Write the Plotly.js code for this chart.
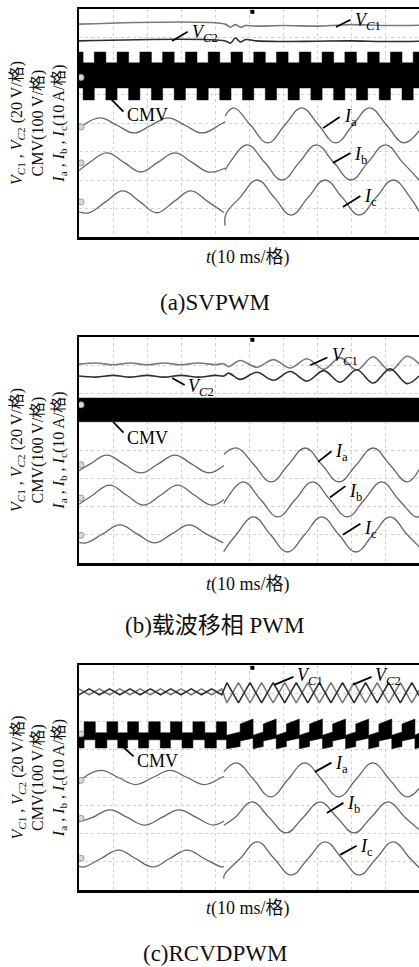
<!DOCTYPE html>
<html><head><meta charset="utf-8">
<script src="https://cdn.plot.ly/plotly-3.0.1.min.js"></script>
<style>html,body{margin:0;padding:0;background:#fff;}#chart{width:419px;height:967px;}</style>
</head><body><div id="chart"></div>
<script>
// ===== Data (time in ms, 10 ms/div; value in screen divisions, 0..8) =====
// ---- Panel (a) SVPWM ----
const tVc1A = [0, 43, 44.5, 46, 47.5, 49, 52, 60, 70, 76, 80, 90, 100];
const yVc1A = [7.47, 7.47, 7.36, 7.45, 7.36, 7.42, 7.40, 7.42, 7.40, 7.43, 7.45, 7.42, 7.43];
const tVc2A = [0, 43, 44.5, 46, 47.5, 49, 52, 60, 70, 80, 90, 100];
const yVc2A = [6.88, 6.88, 6.80, 6.98, 6.84, 6.93, 6.88, 6.86, 6.87, 6.88, 6.86, 6.87];
const tCmvA = [0, 1.2, 4.5, 7.9, 11.2, 14.6, 17.9, 21.3, 24.6, 28.0, 31.3, 34.7, 38.0, 41.4, 44.7, 48.1, 51.4, 54.8, 58.1, 61.5, 64.8, 68.2, 71.5, 74.9, 78.2, 81.6, 84.9, 88.3, 91.6, 95.0, 98.3, 100];
const cmvHiA = [6.49, 6.11, 6.49, 6.11, 6.49, 6.11, 6.49, 6.11, 6.49, 6.11, 6.49, 6.11, 6.49, 6.11, 6.49, 6.11, 6.49, 6.11, 6.49, 6.11, 6.49, 6.11, 6.49, 6.11, 6.49, 6.11, 6.49, 6.11, 6.49, 6.11, 6.49, 6.49];
const cmvLoA = [5.23, 4.81, 5.23, 4.81, 5.23, 4.81, 5.23, 4.81, 5.23, 4.81, 5.23, 4.81, 5.23, 4.81, 5.23, 4.81, 5.23, 4.81, 5.23, 4.81, 5.23, 4.81, 5.23, 4.81, 5.23, 4.81, 5.23, 4.81, 5.23, 4.81, 5.23, 5.23];
const tIaA = [0, 1.2, 6.2, 11.2, 16.2, 21.2, 26.2, 31.2, 36.2, 41.2, 43.0, null, 43.0, 45.5, 50.5, 55.5, 60.5, 65.5, 70.5, 75.5, 80.5, 85.5, 90.5, 95.5, 100];
const yIaA = [3.78, 3.92, 4.18, 3.92, 3.65, 3.92, 4.18, 3.92, 3.65, 3.92, 4.05, null, 4.25, 4.53, 3.92, 3.30, 3.92, 4.53, 3.92, 3.30, 3.92, 4.53, 3.92, 3.30, 3.72];
const tIbA = [0, 3.2, 8.2, 13.2, 18.2, 23.2, 28.2, 33.2, 38.2, 43.0, null, 43.0, 44.4, 49.5, 54.6, 59.7, 64.8, 69.8, 74.9, 80.0, 85.0, 90.1, 95.2, 100];
const yIbA = [2.33, 2.62, 2.95, 2.62, 2.28, 2.62, 2.95, 2.62, 2.28, 2.42, null, 2.35, 2.62, 3.23, 2.62, 2.00, 2.62, 3.23, 2.62, 2.00, 2.62, 3.23, 2.62, 2.00];
const tIcA = [0, 2.9, 7.9, 12.9, 17.9, 22.9, 27.9, 32.9, 37.9, 42.6, null, 43.0, 43.2, 47.4, 52.4, 57.4, 62.4, 67.4, 72.4, 77.4, 82.4, 87.4, 92.4, 97.4, 100];
const yIcA = [0.88, 0.85, 1.24, 1.62, 1.24, 0.85, 1.24, 1.62, 1.24, 0.86, null, 0.40, 0.80, 1.39, 2.00, 1.39, 0.77, 1.39, 2.00, 1.39, 0.77, 1.39, 2.00, 1.39, 0.90];
// ---- Panel (b) carrier phase-shifted PWM ----
const tVc1B = [0, 5, 10, 15, 20, 25, 30, 35, 40, 42.6, 44, 47.4, 52.3, 57.2, 62.1, 67.1, 72.0, 76.8, 81.7, 86.5, 91.5, 96.5, 100];
const yVc1B = [7.04, 7.08, 7.02, 7.08, 7.02, 7.08, 7.02, 7.08, 7.02, 7.05, 6.95, 7.17, 6.93, 7.20, 6.90, 7.23, 6.86, 7.27, 6.83, 7.30, 6.80, 7.32, 7.05];
const tVc2B = [0, 5, 10, 15, 20, 25, 30, 35, 40, 42.6, 44, 47.4, 52.3, 57.2, 62.1, 67.1, 72.0, 76.8, 81.7, 86.5, 91.5, 96.5, 100];
const yVc2B = [6.62, 6.58, 6.64, 6.58, 6.64, 6.58, 6.64, 6.58, 6.64, 6.62, 6.72, 6.50, 6.75, 6.47, 6.78, 6.44, 6.81, 6.40, 6.84, 6.37, 6.87, 6.35, 6.62];
const tCmvB = [0, 100];
const cmvHiB = [5.84, 5.84];
const cmvLoB = [5.00, 5.00];
const tIaB = [0, 3.2, 8.2, 13.2, 18.2, 23.2, 28.2, 33.2, 38.2, 42.6, null, 42.6, 46.5, 51.5, 56.5, 61.5, 66.5, 71.5, 76.5, 81.5, 86.5, 91.5, 96.5, 100];
const yIaB = [3.27, 3.50, 3.82, 3.50, 3.19, 3.50, 3.82, 3.50, 3.19, 3.45, null, 3.85, 4.07, 3.47, 2.87, 3.47, 4.07, 3.47, 2.87, 3.47, 4.07, 3.47, 2.87, 3.30];
const tIbB = [0, 4.0, 9.0, 14.0, 19.0, 24.0, 29.0, 34.0, 39.0, 42.6, null, 42.6, 43.3, 48.3, 53.4, 58.5, 63.6, 68.7, 73.8, 78.9, 84.0, 89.0, 94.0, 99.0, 100];
const yIbB = [2.08, 2.40, 2.76, 2.40, 2.05, 2.40, 2.76, 2.40, 2.05, 2.25, null, 2.10, 2.25, 2.87, 2.25, 1.63, 2.25, 2.87, 2.25, 1.63, 2.25, 2.87, 2.25, 1.63, 1.65];
const tIcB = [0, 2.0, 7.0, 12.0, 17.1, 22.2, 27.3, 32.4, 37.4, 42.4, null, 42.6, 42.8, 46.3, 51.3, 56.3, 61.3, 66.4, 71.4, 76.4, 81.4, 86.5, 91.5, 96.5, 100];
const yIcB = [0.73, 0.71, 1.03, 1.35, 1.03, 0.71, 1.03, 1.35, 1.03, 0.71, null, 0.40, 0.45, 1.01, 1.63, 1.01, 0.39, 1.01, 1.63, 1.01, 0.39, 1.01, 1.63, 1.01, 0.58];
// ---- Panel (c) RCVDPWM ----
const tVc1C = [0, 3, 6, 9, 12, 15, 18, 21, 24, 27, 30, 33, 36, 39, 42, 43.5, 46.9, 50.3, 53.7, 57.1, 60.5, 63.9, 67.3, 70.7, 74.1, 77.5, 80.9, 84.3, 87.7, 91.1, 94.5, 97.9, 100];
const yVc1C = [7.15, 6.94, 7.15, 6.94, 7.15, 6.94, 7.15, 6.94, 7.15, 6.94, 7.15, 6.94, 7.15, 6.94, 7.15, 6.65, 7.37, 6.65, 7.37, 6.65, 7.37, 6.65, 7.37, 6.65, 7.37, 6.65, 7.37, 6.65, 7.37, 6.65, 7.37, 6.65, 7.10];
const tVc2C = tVc1C;
const yVc2C = [6.94, 7.15, 6.94, 7.15, 6.94, 7.15, 6.94, 7.15, 6.94, 7.15, 6.94, 7.15, 6.94, 7.15, 6.94, 7.37, 6.65, 7.37, 6.65, 7.37, 6.65, 7.37, 6.65, 7.37, 6.65, 7.37, 6.65, 7.37, 6.65, 7.37, 6.65, 7.37, 6.92];
const tCmvC = [0, 1.5, 1.5, 4.8, 4.8, 8.2, 8.2, 11.4, 11.4, 14.3, 14.3, 17.5, 17.5, 20.5, 20.5, 23.9, 23.9, 26.9, 26.9, 30.3, 30.3, 33.5, 33.5, 37.0, 37.0, 40.4, 40.4, 43.4,
  43.4, 47.4, 47.4, 51.2, 51.2, 54.2, 54.2, 58.0, 58.0, 61.0, 61.0, 64.8, 64.8, 67.8, 67.8, 71.6, 71.6, 74.6, 74.6, 78.4, 78.4, 81.4, 81.4, 85.2, 85.2, 88.2, 88.2, 92.0, 92.0, 95.0, 95.0, 98.8, 98.8, 100];
const cmvHiC = [5.59, 5.59, 5.98, 5.98, 5.59, 5.59, 5.98, 5.98, 5.59, 5.59, 5.98, 5.98, 5.59, 5.59, 5.98, 5.98, 5.59, 5.59, 5.98, 5.98, 5.59, 5.59, 5.98, 5.98, 5.59, 5.59, 5.98, 5.98,
  5.50, 5.62, 5.90, 6.08, 5.50, 5.62, 5.90, 6.08, 5.50, 5.62, 5.90, 6.08, 5.50, 5.62, 5.90, 6.08, 5.50, 5.62, 5.90, 6.08, 5.50, 5.62, 5.90, 6.08, 5.50, 5.62, 5.90, 6.08, 5.50, 5.62, 5.90, 6.08, 5.50, 5.58];
const cmvLoC = [5.05, 5.05, 5.34, 5.34, 5.05, 5.05, 5.34, 5.34, 5.05, 5.05, 5.34, 5.34, 5.05, 5.05, 5.34, 5.34, 5.05, 5.05, 5.34, 5.34, 5.05, 5.05, 5.34, 5.34, 5.05, 5.05, 5.34, 5.34,
  5.02, 5.10, 5.30, 5.40, 5.02, 5.10, 5.30, 5.40, 5.02, 5.10, 5.30, 5.40, 5.02, 5.10, 5.30, 5.40, 5.02, 5.10, 5.30, 5.40, 5.02, 5.10, 5.30, 5.40, 5.02, 5.10, 5.30, 5.40, 5.02, 5.10, 5.30, 5.40, 5.02, 5.06];
const tIaC = [0, 1.5, 6.5, 11.6, 16.6, 21.7, 26.8, 31.8, 36.9, 41.9, 42.6, null, 42.6, 46.4, 51.4, 56.4, 61.4, 66.4, 71.4, 76.4, 81.4, 86.4, 91.4, 96.4, 100];
const yIaC = [3.78, 4.00, 4.25, 4.00, 3.75, 4.00, 4.25, 4.00, 3.75, 4.00, 4.03, null, 4.20, 4.52, 3.92, 3.31, 3.92, 4.52, 3.92, 3.31, 3.92, 4.52, 3.92, 3.31, 3.60];
const tIbC = [0, 4.0, 9.1, 14.2, 19.3, 24.4, 29.4, 34.5, 39.5, 42.6, null, 42.6, 45.9, 50.9, 55.9, 60.9, 65.9, 70.9, 75.9, 80.9, 85.9, 90.9, 95.9, 100];
const yIbC = [2.42, 2.58, 2.85, 2.58, 2.31, 2.58, 2.85, 2.58, 2.31, 2.45, null, 2.30, 2.58, 3.13, 2.58, 2.03, 2.58, 3.13, 2.58, 2.03, 2.58, 3.13, 2.58, 2.15];
const tIcC = [0, 1.5, 6.5, 11.6, 16.6, 21.7, 26.7, 31.8, 36.8, 41.9, 42.6, null, 42.6, 42.8, 47.4, 52.4, 57.4, 62.4, 67.4, 72.4, 77.4, 82.4, 87.4, 92.4, 97.4, 100];
const yIcC = [0.84, 0.82, 1.12, 1.42, 1.12, 0.82, 1.12, 1.42, 1.12, 0.82, 0.83, null, 0.40, 0.55, 1.12, 1.71, 1.12, 0.53, 1.12, 1.71, 1.12, 0.53, 1.12, 1.71, 1.12, 0.80];
// channel ground markers (left edge) and trigger marker (top)
const gndA = [5.6, 3.86, 2.6, 1.23];
const gndB = [5.6, 3.48, 2.3, 0.98];
const gndC = [5.55, 3.9, 2.55, 1.13];
const trigT = [51, 51, 51];

const labelFont = 'Liberation Serif, Times New Roman, Noto Sans CJK SC, serif';
const cGray = '#7a7a7a', cDark = '#2e2e2e', cCur = '#666';

const panels = [
  {ax: '', t: [tVc1A, tVc2A, tCmvA, tIaA, tIbA, tIcA], y: [yVc1A, yVc2A, cmvHiA, yIaA, yIbA, yIcA], lo: cmvLoA, cmvShape: 'hv', vcShape: 'spline', gnd: gndA},
  {ax: '2', t: [tVc1B, tVc2B, tCmvB, tIaB, tIbB, tIcB], y: [yVc1B, yVc2B, cmvHiB, yIaB, yIbB, yIcB], lo: cmvLoB, cmvShape: 'linear', vcShape: 'spline', gnd: gndB},
  {ax: '3', t: [tVc1C, tVc2C, tCmvC, tIaC, tIbC, tIcC], y: [yVc1C, yVc2C, cmvHiC, yIaC, yIbC, yIcC], lo: cmvLoC, cmvShape: 'linear', vcShape: 'linear', gnd: gndC}
];

const traces = [];
panels.forEach((p, i) => {
  const xa = 'x' + p.ax, ya = 'y' + p.ax;
  traces.push({x: p.t[0], y: p.y[0], xaxis: xa, yaxis: ya, mode: 'lines', line: {color: cGray, width: 1.6, shape: p.vcShape}, hoverinfo: 'skip'});
  traces.push({x: p.t[1], y: p.y[1], xaxis: xa, yaxis: ya, mode: 'lines', line: {color: cDark, width: 1.6, shape: p.vcShape}, hoverinfo: 'skip'});
  traces.push({x: p.t[2], y: p.y[2], xaxis: xa, yaxis: ya, mode: 'lines', line: {color: '#000', width: 0.5, shape: p.cmvShape}, hoverinfo: 'skip'});
  traces.push({x: p.t[2], y: p.lo, xaxis: xa, yaxis: ya, mode: 'lines', fill: 'tonexty', fillcolor: '#000', line: {color: '#000', width: 0.5, shape: p.cmvShape}, hoverinfo: 'skip'});
  for (let k = 3; k < 6; k++) {
    traces.push({x: p.t[k], y: p.y[k], xaxis: xa, yaxis: ya, mode: 'lines', connectgaps: false, line: {color: cCur, width: 1.3, shape: 'spline', smoothing: 1.2}, hoverinfo: 'skip'});
  }
  traces.push({x: p.gnd.map(() => 0.6), y: p.gnd, xaxis: xa, yaxis: ya, mode: 'markers', marker: {symbol: 'circle', size: 6, color: '#d8d8d8', line: {color: '#999', width: 1}}, hoverinfo: 'skip'});
  traces.push({x: [trigT[i]], y: [7.9], xaxis: xa, yaxis: ya, mode: 'markers', marker: {symbol: 'square', size: 4, color: '#000'}, hoverinfo: 'skip'});
});

const H = 967;
const doms = [[237, 9], [563, 337], [890, 665]];
const layout = {
  width: 419, height: 967, margin: {l: 0, r: 0, t: 0, b: 0},
  paper_bgcolor: '#fff', plot_bgcolor: '#fff', showlegend: false,
  font: {family: labelFont, color: '#111'},
  annotations: [], shapes: []
};
const axX = {range: [0, 100], dtick: 10, showticklabels: false, ticks: '', showgrid: true, gridcolor: '#d2d2d2', griddash: 'dot', gridwidth: 1, zeroline: false, showline: true, linecolor: '#000', linewidth: 2.5, mirror: true, fixedrange: true};
const axY = {range: [0, 8], dtick: 1, showticklabels: false, ticks: '', showgrid: true, gridcolor: '#d2d2d2', griddash: 'dot', gridwidth: 1, zeroline: false, showline: true, linecolor: '#000', linewidth: 2.5, mirror: true, fixedrange: true};
doms.forEach((d, i) => {
  const s = i === 0 ? '' : String(i + 1);
  layout['xaxis' + s] = Object.assign({}, axX, {domain: [79 / 419, 1], anchor: 'y' + s});
  layout['yaxis' + s] = Object.assign({}, axY, {domain: [(H - d[0]) / H, (H - d[1]) / H], anchor: 'x' + s});
});

const ylab = '<i>V</i><sub><i>C</i>1</sub> , <i>V</i><sub><i>C</i>2</sub> (20 V/格)<br>CMV(100 V/格)<br><i>I</i><sub>a</sub> , <i>I</i><sub>b</sub> , <i>I</i><sub>c</sub>(10 A/格)';
const captions = ['(a)SVPWM', '(b)载波移相 PWM', '(c)RCVDPWM'];
const capY = [302, 625, 953];
const tY = [257, 585, 908];
doms.forEach((d, i) => {
  layout.annotations.push({xref: 'paper', yref: 'paper', x: 39 / 419, y: (H - (d[0] + d[1]) / 2) / H, text: ylab, textangle: -90, showarrow: false, font: {size: 16, family: labelFont, color: '#111'}, xanchor: 'center', yanchor: 'middle'});
  layout.annotations.push({xref: 'paper', yref: 'paper', x: 248 / 419, y: (H - tY[i]) / H, text: '<i>t</i>(10 ms/格)', showarrow: false, font: {size: 18, family: labelFont, color: '#111'}, xanchor: 'center', yanchor: 'middle'});
  layout.annotations.push({xref: 'paper', yref: 'paper', x: 215 / 419, y: (H - capY[i]) / H, text: captions[i], showarrow: false, font: {size: 23, family: labelFont, color: '#111'}, xanchor: 'center', yanchor: 'middle'});
});

// curve labels with leader lines: [panel, text, headT, headY, tailT, tailY, textT, textY]
const tags = [
  [0, '<i>V</i><sub><i>C</i>1</sub>', 75.6, 7.37, 80.3, 7.65, 80.6, 7.55],
  [0, '<i>V</i><sub><i>C</i>2</sub>', 27.4, 6.88, 32.4, 7.23, 32.6, 7.15],
  [0, 'CMV', 8.5, 4.95, 13.5, 4.35, 13.4, 4.28],
  [0, '<i>I</i><sub>a</sub>', 71.8, 3.82, 77.1, 4.25, 77.4, 4.2],
  [0, '<i>I</i><sub>b</sub>', 74.7, 2.6, 80.3, 2.98, 80.3, 2.87],
  [0, '<i>I</i><sub>c</sub>', 77.6, 1.05, 83.2, 1.47, 83.3, 1.37],
  [1, '<i>V</i><sub><i>C</i>1</sub>', 68.0, 7.0, 73.5, 7.3, 73.7, 7.3],
  [1, '<i>V</i><sub><i>C</i>2</sub>', 27.4, 6.55, 31.5, 6.27, 31.6, 6.2],
  [1, 'CMV', 10.0, 5.0, 13.5, 4.56, 13.6, 4.42],
  [1, '<i>I</i><sub>a</sub>', 70.3, 3.58, 74.7, 4.0, 74.8, 3.9],
  [1, '<i>I</i><sub>b</sub>', 73.8, 2.32, 78.8, 2.76, 78.9, 2.5],
  [1, '<i>I</i><sub>c</sub>', 77.6, 1.0, 83.2, 1.42, 83.3, 1.17],
  [2, '<i>V</i><sub><i>C</i>1</sub>', 57.6, 7.3, 63.5, 7.6, 63.6, 7.6],
  [2, '<i>V</i><sub><i>C</i>2</sub>', 80.6, 7.3, 86.5, 7.6, 86.6, 7.6],
  [2, 'CMV', 12.6, 5.13, 16.5, 4.7, 16.6, 4.6],
  [2, '<i>I</i><sub>a</sub>', 69.4, 4.2, 74.7, 4.56, 74.8, 4.45],
  [2, '<i>I</i><sub>b</sub>', 72.9, 2.74, 78.2, 3.13, 78.3, 3.03],
  [2, '<i>I</i><sub>c</sub>', 76.8, 1.25, 82.1, 1.6, 82.2, 1.5]
];
tags.forEach(g => {
  const s = g[0] === 0 ? '' : String(g[0] + 1);
  layout.annotations.push({xref: 'x' + s, yref: 'y' + s, axref: 'x' + s, ayref: 'y' + s, x: g[2], y: g[3], ax: g[4], ay: g[5], text: '', showarrow: true, arrowhead: 0, arrowwidth: 1.8, arrowcolor: '#000', standoff: 0, startstandoff: 0});
  layout.annotations.push({xref: 'x' + s, yref: 'y' + s, x: g[6], y: g[7], text: g[1], showarrow: false, xanchor: 'left', yanchor: 'middle', font: {size: 18, family: labelFont, color: '#000'}});
});

Plotly.newPlot('chart', traces, layout, {staticPlot: true, displayModeBar: false});
</script></body></html>
